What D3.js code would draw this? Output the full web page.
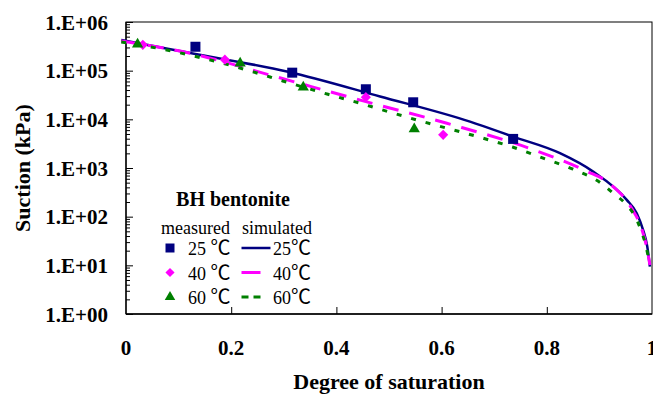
<!DOCTYPE html>
<html>
<head>
<meta charset="utf-8">
<script src="https://cdn.jsdelivr.net/npm/d3@7"></script>
</head>
<body style="margin:0">
<div id="chart"></div>
<script>
// Measured points (degree of saturation, suction kPa).
const measSat25 = [0.132, 0.316, 0.456, 0.546, 0.736];
const measSuc25 = [3.1e5, 9.1e4, 4.15e4, 2.24e4, 3.96e3];
const measSat40 = [0.032, 0.188, 0.456, 0.603];
const measSuc40 = [3.4e5, 1.68e5, 2.85e4, 4.8e3];
const measSat60 = [0.022, 0.217, 0.337, 0.548];
const measSuc60 = [3.5e5, 1.42e5, 4.56e4, 6.3e3];

// Simulated curves.
const simSat25 = [-0.009, 0.132, 0.308, 0.483, 0.654, 0.736, 0.825, 0.888, 0.952, 0.971, 0.983, 0.991, 0.996];
const simSuc25 = [4.27e5, 2.2e5, 9.5e4, 2.95e4, 8.97e3, 4.4e3, 2.01e3, 843, 221, 118, 53.6, 24.3, 9.4];
const simSat40 = [-0.009, 0.122, 0.285, 0.449, 0.610, 0.770, 0.873, 0.920, 0.961, 0.980, 0.991, 0.996];
const simSuc40 = [4.07e5, 2.28e5, 7.5e4, 2.42e4, 8.3e3, 2.47e3, 885, 472, 150, 58, 20.8, 10.2];
const simSat60 = [-0.009, 0.061, 0.152, 0.241, 0.298, 0.384, 0.445, 0.502, 0.559, 0.679, 0.736, 0.793, 0.850, 0.905, 0.926, 0.950, 0.968, 0.980, 0.989, 0.995];
const simSuc60 = [3.9e5, 2.88e5, 1.74e5, 9.5e4, 6.15e4, 3.27e4, 2.14e4, 1.4e4, 9.3e3, 4.09e3, 2.67e3, 1.59e3, 944, 472, 304, 183, 100, 49.4, 23.7, 11.1];

const xTicks = [0, 0.2, 0.4, 0.6, 0.8, 1];
const xTickLabels = ["0", "0.2", "0.4", "0.6", "0.8", "1"];
const yTicks = [1, 10, 100, 1000, 10000, 100000, 1000000];
const yTickLabels = ["1.E+00", "1.E+01", "1.E+02", "1.E+03", "1.E+04", "1.E+05", "1.E+06"];
const temps = ["25", "40", "60"];

const width = 653, height = 396;
const margin = { top: 22, right: 1, bottom: 82, left: 126 };
const fontSerif = "'Liberation Serif', 'Times New Roman', serif";
const fontCjk = "'Noto Sans CJK JP', 'Noto Sans CJK SC', sans-serif";

const svg = d3.select("#chart").append("svg")
  .attr("width", width)
  .attr("height", height)
  .style("font-family", fontSerif);

const x = d3.scaleLinear().domain([0, 1]).range([margin.left, width - margin.right]);
const y = d3.scaleLog().domain([1, 1e6]).range([height - margin.bottom, margin.top]);

// Frame (top and right edges).
svg.append("rect")
  .attr("x", x(0)).attr("y", y(1e6))
  .attr("width", x(1) - x(0)).attr("height", y(1) - y(1e6))
  .attr("fill", "none").attr("stroke", "#000").attr("stroke-width", 1);

// Y axis: ticks point inward, minor ticks at 2..9 of each decade.
const minor = [];
for (let d = 0; d < 6; d++) for (let m = 2; m <= 9; m++) minor.push(m * Math.pow(10, d));
const yAxis = svg.append("g").attr("transform", `translate(${x(0)},0)`);
yAxis.call(d3.axisRight(y).tickValues(minor).tickSize(4).tickFormat(""));
yAxis.append("g").call(d3.axisRight(y).tickValues(yTicks).tickSize(7).tickFormat(""));
yAxis.selectAll(".domain").remove();
yAxis.selectAll("line").attr("stroke", "#000");
svg.append("line")
  .attr("x1", x(0)).attr("x2", x(0)).attr("y1", y(1e6)).attr("y2", y(1))
  .attr("stroke", "#000").attr("stroke-width", 1.3);
svg.selectAll(".ylab").data(yTicks).join("text")
  .attr("x", x(0) - 18)
  .attr("y", d => y(d) + 7.5)
  .attr("text-anchor", "end")
  .style("font-family", fontSerif)
  .style("font-size", "21px").style("font-weight", "bold")
  .text((d, i) => yTickLabels[i]);

// X axis: ticks point up.
const xAxis = svg.append("g").attr("transform", `translate(0,${y(1)})`)
  .call(d3.axisTop(x).tickValues(xTicks.slice(1, -1)).tickSize(7).tickFormat(""));
xAxis.selectAll(".domain").remove();
xAxis.selectAll("line").attr("stroke", "#000");
svg.append("line")
  .attr("x1", x(0)).attr("x2", x(1)).attr("y1", y(1)).attr("y2", y(1))
  .attr("stroke", "#000").attr("stroke-width", 1.3);
svg.selectAll(".xlab").data(xTicks).join("text")
  .attr("x", d => x(d))
  .attr("y", y(1) + 41)
  .attr("text-anchor", "middle")
  .style("font-family", fontSerif)
  .style("font-size", "21px").style("font-weight", "bold")
  .text((d, i) => xTickLabels[i]);

// Axis titles.
svg.append("text")
  .attr("x", 389).attr("y", 389)
  .attr("text-anchor", "middle")
  .style("font-family", fontSerif)
  .style("font-size", "22px").style("font-weight", "bold")
  .text("Degree of saturation");
svg.append("text")
  .attr("transform", `translate(30,${(y(1) + y(1e6)) / 2}) rotate(-90)`)
  .attr("text-anchor", "middle")
  .style("font-family", fontSerif)
  .style("font-size", "22px").style("font-weight", "bold")
  .text("Suction (kPa)");

// Simulated curves.
const series = [
  { sat: simSat25, suc: simSuc25, color: "#000080", width: 2.5, dash: null, legDash: null, legLen: 29 },
  { sat: simSat40, suc: simSuc40, color: "#FF00FF", width: 3, dash: "16,11", legDash: null, legLen: 19 },
  { sat: simSat60, suc: simSuc60, color: "#008000", width: 3, dash: "5,10", legDash: "7,5", legLen: 20 }
];
const line = d3.line()
  .x(d => x(d[0]))
  .y(d => y(d[1]))
  .curve(d3.curveMonotoneX);
series.forEach(s => {
  svg.append("path")
    .attr("d", line(s.sat.map((v, i) => [v, s.suc[i]])))
    .attr("fill", "none")
    .attr("stroke", s.color)
    .attr("stroke-width", s.width)
    .attr("stroke-dasharray", s.dash);
});

// Measured points.
const markers = [
  { sat: measSat25, suc: measSuc25, color: "#000080", type: d3.symbolSquare, size: 100, rot: 0, legSize: 81 },
  { sat: measSat40, suc: measSuc40, color: "#FF00FF", type: d3.symbolSquare, size: 52, rot: 45, legSize: 42 },
  { sat: measSat60, suc: measSuc60, color: "#008000", type: d3.symbolTriangle, size: 55, rot: 0, legSize: 48 }
];
markers.forEach(m => {
  svg.selectAll(null).data(m.sat.map((v, i) => [v, m.suc[i]])).join("path")
    .attr("transform", d => `translate(${x(d[0])},${y(d[1])}) rotate(${m.rot})`)
    .attr("d", d3.symbol().type(m.type).size(m.size))
    .attr("fill", m.color);
});

// Legend.
const leg = svg.append("g");
leg.append("text")
  .attr("x", 233).attr("y", 206)
  .attr("text-anchor", "middle")
  .style("font-family", fontSerif)
  .style("font-size", "20px").style("font-weight", "bold")
  .text("BH bentonite");
leg.append("text").attr("x", 161).attr("y", 234)
  .style("font-family", fontSerif).style("font-size", "18px").text("measured");
leg.append("text").attr("x", 242).attr("y", 234)
  .style("font-family", fontSerif).style("font-size", "18px").text("simulated");
temps.forEach((t, i) => {
  const cy = 248 + i * 24.5;
  const m = markers[i], s = series[i];
  leg.append("path")
    .attr("transform", `translate(170,${cy}) rotate(${m.rot})`)
    .attr("d", d3.symbol().type(m.type).size(m.legSize))
    .attr("fill", m.color);
  const t1 = leg.append("text").attr("x", 188).attr("y", cy + 7)
    .style("font-family", fontSerif).style("font-size", "18px");
  t1.append("tspan").text(t + " ");
  t1.append("tspan").style("font-family", fontCjk).style("font-size", "20px").text("℃");
  leg.append("line")
    .attr("x1", 241.5).attr("x2", 241.5 + s.legLen)
    .attr("y1", cy).attr("y2", cy)
    .attr("stroke", s.color).attr("stroke-width", s.width)
    .attr("stroke-dasharray", s.legDash);
  const t2 = leg.append("text").attr("x", 273).attr("y", cy + 7)
    .style("font-family", fontSerif).style("font-size", "18px");
  t2.append("tspan").text(t);
  t2.append("tspan").style("font-family", fontCjk).style("font-size", "20px").text("℃");
});
</script>
</body>
</html>
